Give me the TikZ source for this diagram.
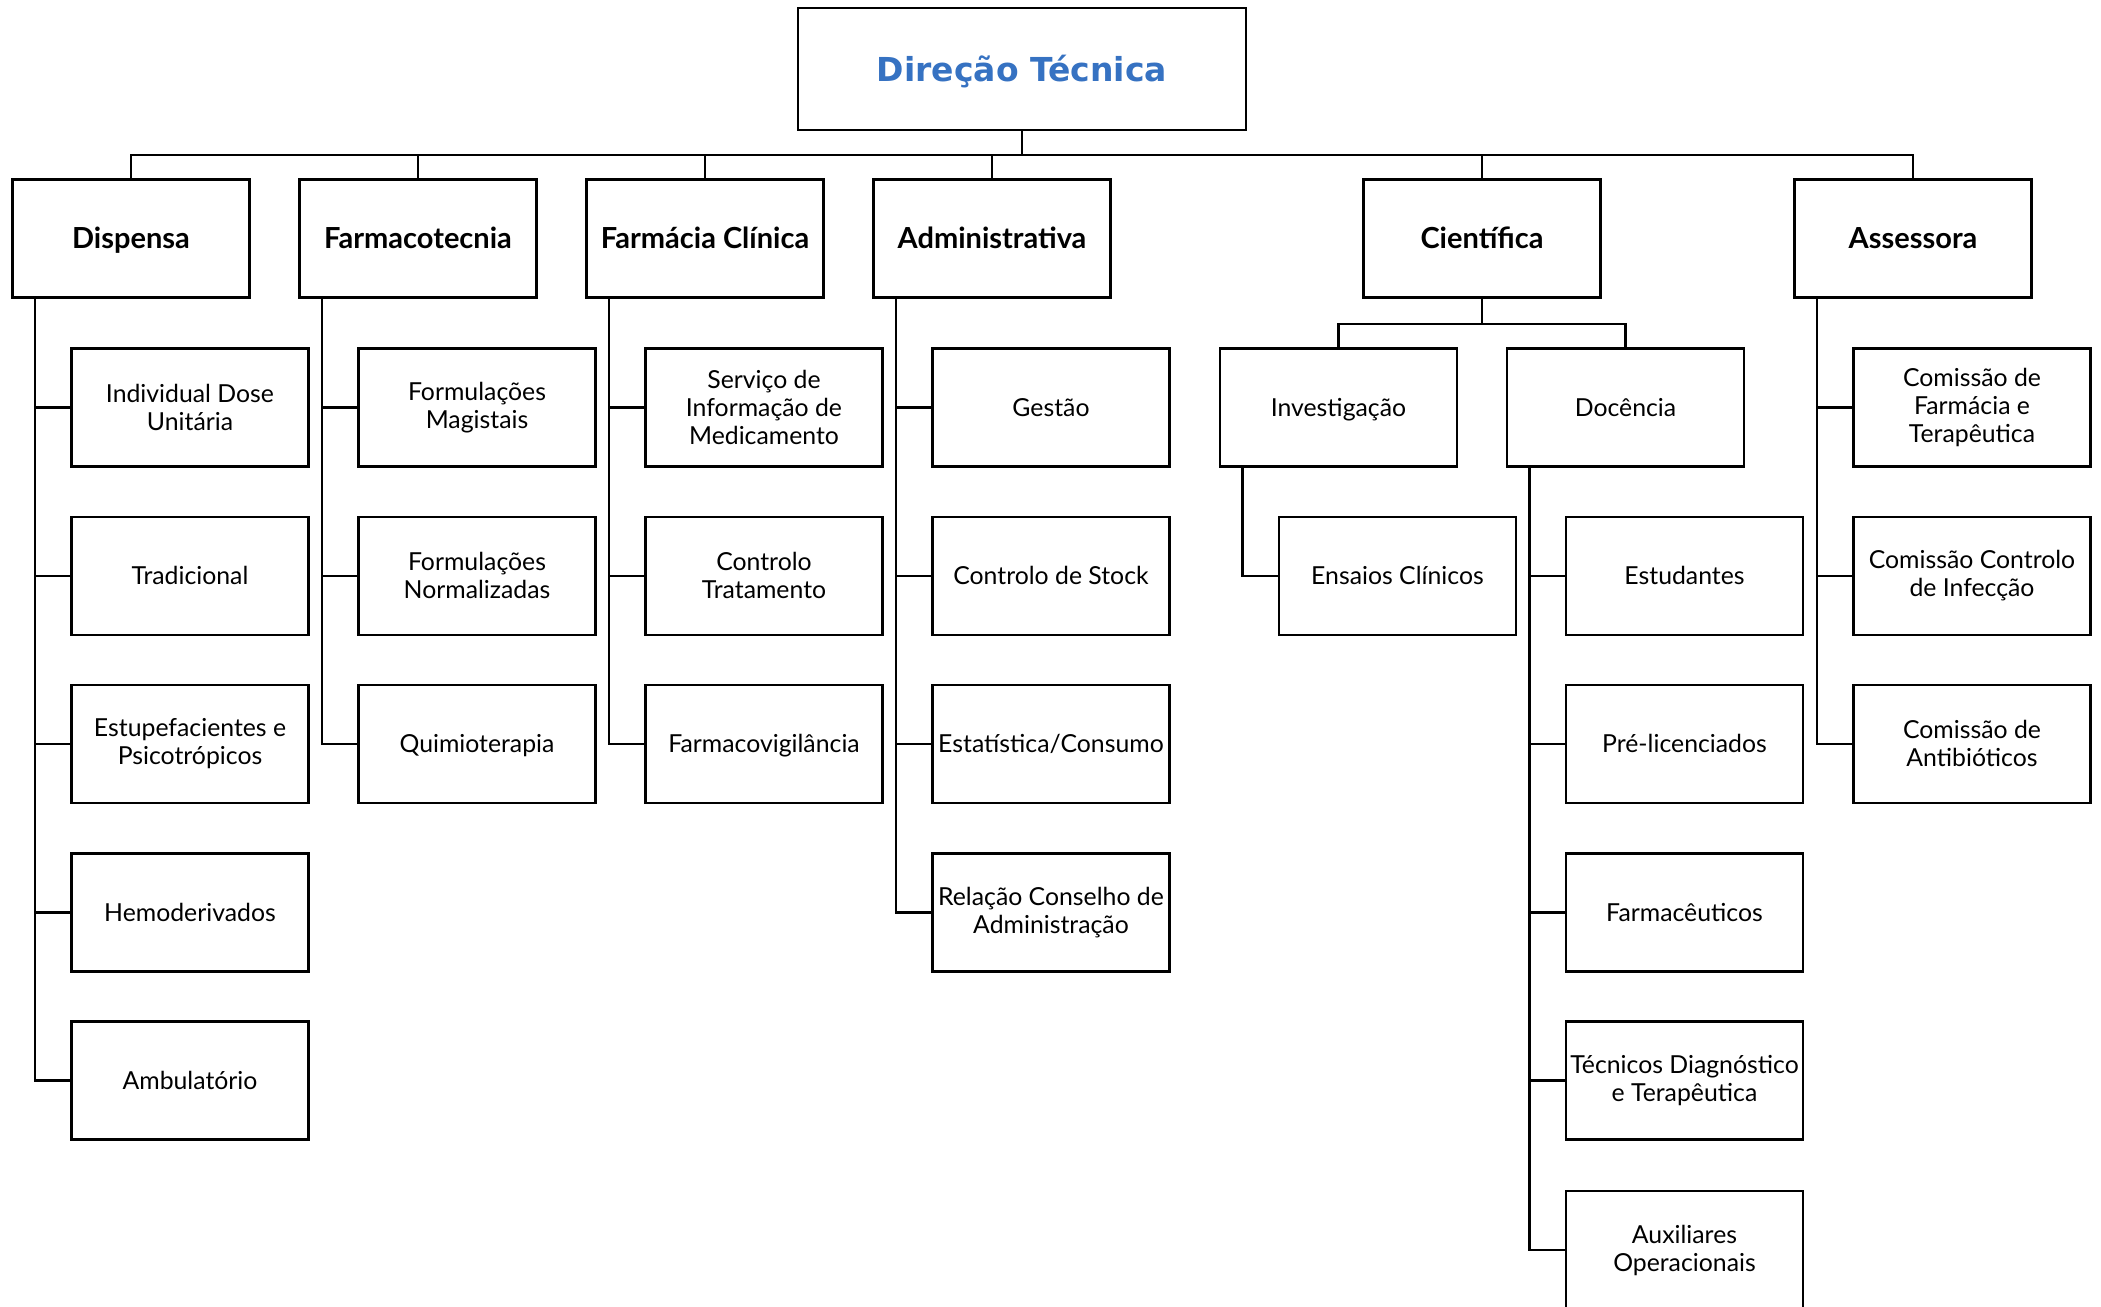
\documentclass[tikz,border=0pt]{standalone}
\usepackage{fontspec}
\setmainfont{Lato}
\newfontfamily\titlefont{DejaVu Sans}
\definecolor{titleblue}{RGB}{54,114,194}
\newcommand\substrut{\rule[-0.6pt]{0pt}{10.1pt}}
\begin{document}
\begin{tikzpicture}[x=0.5pt,y=-0.5pt,
  boxbase/.style={draw=black,line width=1.3pt,rectangle,fill=white,inner sep=1pt,align=center},
  topbox/.style={boxbase,minimum width=224pt,minimum height=61pt,font=\titlefont\bfseries\fontsize{16.5}{19}\selectfont,text=titleblue,
    text height=12pt,text depth=0pt},
  lvlbox/.style={boxbase,minimum width=118.5pt,minimum height=59pt,font=\bfseries\fontsize{14.5}{17}\selectfont,
    text height=10.9pt,text depth=0.5pt},
  subbox/.style={boxbase,minimum width=118.5pt,minimum height=59pt,font=\fontsize{12.4}{14}\selectfont,
    execute at begin node=\substrut, execute at end node=\substrut},
  subone/.style={boxbase,minimum width=118.5pt,minimum height=59pt,font=\fontsize{12.4}{14}\selectfont,
    text height=9.5pt,text depth=0.6pt},
  conn/.style={draw=black,line width=1.25pt}]
\useasboundingbox (0,0) rectangle (2101,1307);
\clip (0,0) rectangle (2101,1307);
% top
\node[topbox] (top) at (1022,69) {Direção Técnica};
% level 1
\node[lvlbox] (disp) at (131,238.5) {Dispensa};
\node[lvlbox] (farm) at (418,238.5) {Farmacotecnia};
\node[lvlbox] (fcl) at (705,238.5) {Farmácia Clínica};
\node[lvlbox] (adm) at (992,238.5) {Administrativa};
\node[lvlbox] (sci) at (1482,238.5) {Científica};
\node[lvlbox] (ass) at (1913,238.5) {Assessora};
% dispensa children
\node[subbox] (d1) at (190,407.5) {Individual Dose\\Unitária};
\node[subone] (d2) at (190,576) {Tradicional};
\node[subbox] (d3) at (190,744) {Estupefacientes e\\Psicotrópicos};
\node[subone] (d4) at (190,912.5) {Hemoderivados};
\node[subone] (d5) at (190,1080.5) {Ambulatório};
% farmacotecnia children
\node[subbox] (f1) at (477,407.5) {Formulações\\Magistais};
\node[subbox] (f2) at (477,576) {Formulações\\Normalizadas};
\node[subone] (f3) at (477,744) {Quimioterapia};
% farmacia clinica children
\node[subbox] (c1) at (764,407.5) {Serviço de\\Informação de\\Medicamento};
\node[subbox] (c2) at (764,576) {Controlo\\Tratamento};
\node[subone] (c3) at (764,744) {Farmacovigilância};
% administrativa children
\node[subone] (a1) at (1051,407.5) {Gestão};
\node[subone] (a2) at (1051,576) {Controlo de Stock};
\node[subone] (a3) at (1051,744) {Estatística/Consumo};
\node[subbox] (a4) at (1051,912.5) {Relação Conselho de\\Administração};
% cientifica
\node[subone] (inv) at (1338.5,407.5) {Investigação};
\node[subone] (doc) at (1625.5,407.5) {Docência};
\node[subone] (i1) at (1397.5,576) {Ensaios Clínicos};
\node[subone] (o1) at (1684.5,576) {Estudantes};
\node[subone] (o2) at (1684.5,744) {Pré-licenciados};
\node[subone] (o3) at (1684.5,912.5) {Farmacêuticos};
\node[subbox] (o4) at (1684.5,1080.5) {Técnicos Diagnóstico\\e Terapêutica};
\node[subbox] (o5) at (1684.5,1250) {Auxiliares\\Operacionais};
% assessora children
\node[subbox] (s1) at (1972,407.5) {Comissão de\\Farmácia e\\Terapêutica};
\node[subbox] (s2) at (1972,576) {Comissão Controlo\\de Infecção};
\node[subbox] (s3) at (1972,744) {Comissão de\\Antibióticos};
% connectors: top bus
\coordinate (bus) at (1022,155);
\draw[conn] (top.south) -- (bus);
\draw[conn] (disp.north) -- (disp.north |- bus) -- (ass.north |- bus) -- (ass.north);
\foreach \n in {farm,fcl,adm,sci} \draw[conn] (\n.north) -- (\n.north |- bus);
% science sub-bus
\coordinate (sbus) at (1482,324);
\draw[conn] (sci.south) -- (sbus);
\draw[conn] (inv.north) -- (inv.north |- sbus) -- (doc.north |- sbus) -- (doc.north);
% child connectors
\foreach \p/\c in {disp/d1,disp/d2,disp/d3,disp/d4,disp/d5,
  farm/f1,farm/f2,farm/f3,fcl/c1,fcl/c2,fcl/c3,
  adm/a1,adm/a2,adm/a3,adm/a4,inv/i1,
  doc/o1,doc/o2,doc/o3,doc/o4,doc/o5,ass/s1,ass/s2,ass/s3}
  \draw[conn] ([xshift=12pt]\p.south west) |- (\c.west);
\end{tikzpicture}
\end{document}
